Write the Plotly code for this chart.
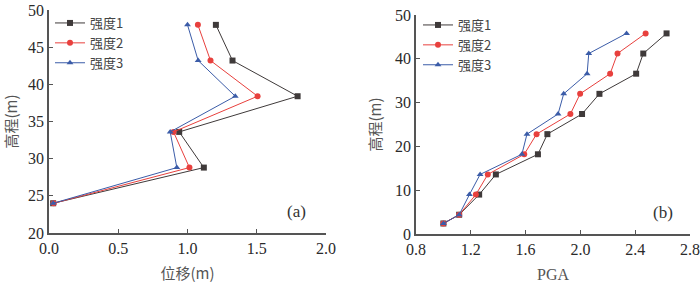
import plotly.graph_objects as go

# Panel (a): displacement vs elevation
elev_a = [48.0, 43.2, 38.4, 33.6, 28.8, 24.0]
disp_1 = [1.205, 1.325, 1.795, 0.94, 1.118, 0.03]
disp_2 = [1.075, 1.166, 1.506, 0.899, 1.014, 0.034]
disp_3 = [1.0, 1.077, 1.345, 0.875, 0.923, 0.03]

# Panel (b): PGA vs elevation
elev_b = [45.8, 41.2, 36.6, 32.0, 27.4, 22.8, 18.2, 13.6, 9.0, 4.4, 2.4]
pga_1 = [2.629, 2.459, 2.407, 2.139, 2.012, 1.759, 1.69, 1.383, 1.261, 1.115, 1.0]
pga_2 = [2.476, 2.271, 2.217, 1.998, 1.927, 1.68, 1.59, 1.324, 1.237, 1.115, 1.0]
pga_3 = [2.337, 2.061, 2.049, 1.878, 1.837, 1.61, 1.573, 1.268, 1.19, 1.115, 1.0]

names = ["强度1", "强度2", "强度3"]
colors = ["#3f3a3a", "#e8403d", "#3b5ca8"]
symbols = ["square", "circle", "triangle-up"]

fig = go.Figure()
for name, xs, c, s in zip(names, [disp_1, disp_2, disp_3], colors, symbols):
    fig.add_trace(go.Scatter(x=xs, y=elev_a, name=name, mode="lines+markers",
                             line=dict(color=c, width=1), marker=dict(symbol=s, size=6, color=c),
                             xaxis="x", yaxis="y", legend="legend"))
for name, xs, c, s in zip(names, [pga_1, pga_2, pga_3], colors, symbols):
    fig.add_trace(go.Scatter(x=xs, y=elev_b, name=name, mode="lines+markers",
                             line=dict(color=c, width=1), marker=dict(symbol=s, size=6, color=c),
                             xaxis="x2", yaxis="y2", legend="legend2"))

serif = "Liberation Serif, Times New Roman, serif"
cjk = "Noto Sans CJK SC, sans-serif"
tickfont = dict(family=serif, size=16, color="#2a2a2a")
titlefont = dict(family=cjk, size=15, color="#555555")
axcommon = dict(showgrid=False, zeroline=False, showline=True, linecolor="#555555", linewidth=1.5,
                ticks="inside", ticklen=4, tickcolor="#555555", tickwidth=1.2, tickfont=tickfont,
                mirror=False, automargin=False)

fig.update_layout(
    template="none",
    width=700, height=283,
    margin=dict(l=0, r=0, t=0, b=0),
    paper_bgcolor="white", plot_bgcolor="white",
    xaxis=dict(domain=[49/700, 326/700], range=[0, 2.0], tickvals=[0, 0.5, 1.0, 1.5, 2.0],
               ticktext=["0.0", "0.5", "1.0", "1.5", "2.0"], anchor="y",
               title=dict(text="位移(m)", font=titlefont, standoff=14), **axcommon),
    yaxis=dict(domain=[1 - 233/283, 1 - 10/283], range=[20, 50], tickvals=[20, 25, 30, 35, 40, 45, 50],
               anchor="x", title=dict(text="高程(m)", font=titlefont, standoff=10), **axcommon),
    xaxis2=dict(domain=[416/700, 690/700], range=[0.8, 2.8], tickvals=[0.8, 1.2, 1.6, 2.0, 2.4, 2.8],
                ticktext=["0.8", "1.2", "1.6", "2.0", "2.4", "2.8"], anchor="y2",
                title=dict(text="PGA", font=dict(family=serif, size=16, color="#555555"), standoff=14),
                **axcommon),
    yaxis2=dict(domain=[1 - 234/283, 1 - 15/283], range=[0, 50], tickvals=[0, 10, 20, 30, 40, 50],
                anchor="x2", title=dict(text="高程(m)", font=titlefont, standoff=10), **axcommon),
    legend=dict(x=50/700, y=1 - 8/283, xanchor="left", yanchor="top", bgcolor="rgba(0,0,0,0)",
                font=dict(family=cjk, size=13, color="#444444"),
                tracegroupgap=0, itemwidth=30),
    legend2=dict(x=418/700, y=1 - 10/283, xanchor="left", yanchor="top", bgcolor="rgba(0,0,0,0)",
                 font=dict(family=cjk, size=13, color="#444444"),
                 tracegroupgap=0, itemwidth=30),
    annotations=[
        dict(text="(a)", x=1.785, y=22.95, xref="x", yref="y", showarrow=False, xanchor="center",
             font=dict(family=serif, size=17, color="#333333")),
        dict(text="(b)", x=2.603, y=4.85, xref="x2", yref="y2", showarrow=False, xanchor="center",
             font=dict(family=serif, size=17, color="#333333")),
    ],
)

fig.write_html("out.html", config={"displayModeBar": False},
               post_script="document.body.style.margin='0';document.body.style.padding='0';document.body.style.overflow='hidden';")
